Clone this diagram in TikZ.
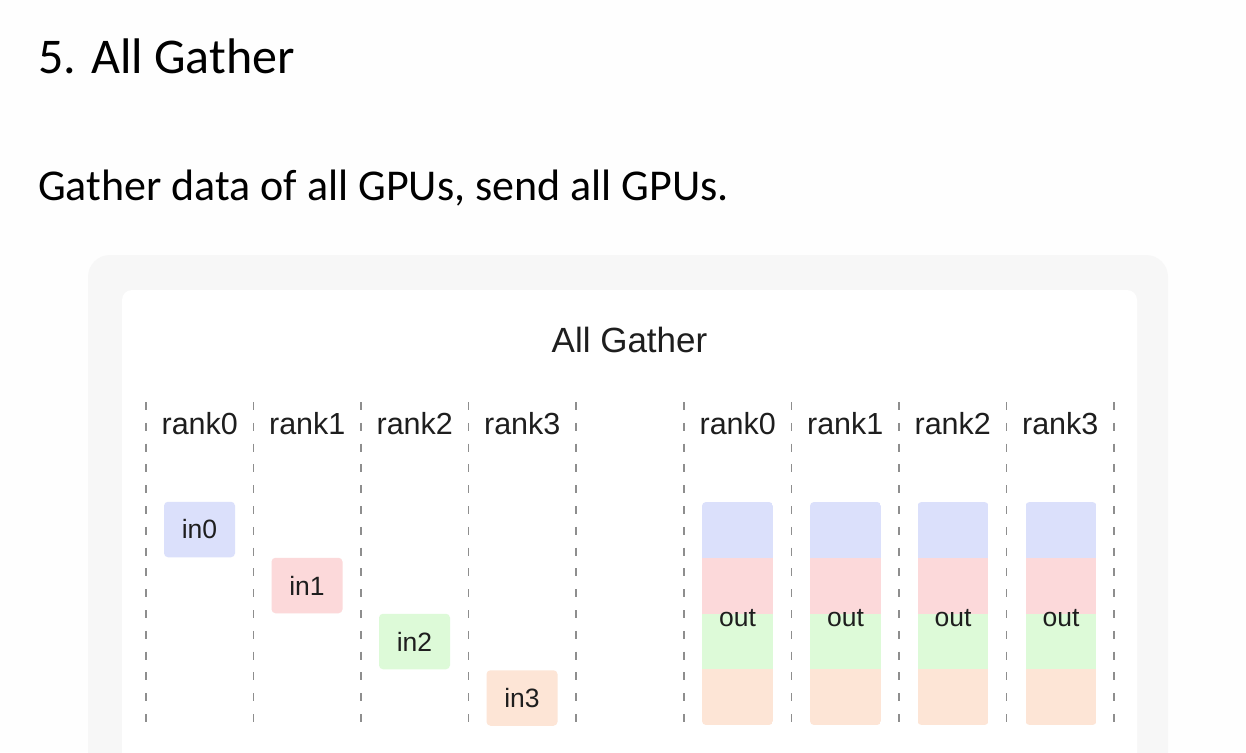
\documentclass[tikz,border=0pt]{standalone}
\usepackage{fontspec}
\setmainfont{Liberation Sans}
\newfontfamily\slidefont{Carlito}
\usepackage{tikz}
\usetikzlibrary{positioning,calc}
\definecolor{agblue}{HTML}{DBE0FB}
\definecolor{agred}{HTML}{FCD9DA}
\definecolor{aggreen}{HTML}{DDFAD8}
\definecolor{agorange}{HTML}{FDE5D6}
\definecolor{agink}{HTML}{1E1E1E}
\definecolor{agdash}{HTML}{8E8E8E}
\definecolor{agshade}{HTML}{F7F7F7}
\definecolor{agpage}{HTML}{FEFEFE}

\begin{document}
\begin{tikzpicture}[
  x=1pt, y=-1pt,
  font=\fontsize{26.5}{32}\selectfont,
  slidetitle/.style={font=\slidefont\fontsize{50}{60}\selectfont, anchor=base west, inner sep=0pt},
  slidetext/.style={font=\slidefont\fontsize{44}{52}\selectfont, anchor=base west, inner sep=0pt},
  panelhead/.style={font=\fontsize{35}{42}\selectfont, text=agink, anchor=base, inner sep=0pt},
  ranklabel/.style={font=\fontsize{30.5}{36}\selectfont, text=agink, anchor=base, inner sep=0pt},
  rankline/.style={agdash, line width=1.5pt, dash pattern=on 8pt off 12.8pt},
  inbox/.style={rounded corners=4pt, minimum width=71pt, minimum height=55.5pt,
    inner sep=0pt, text=agink},
  outcol/.style={rounded corners=4pt, minimum width=71pt, minimum height=223pt,
    inner sep=0pt, text=agink,
    path picture={
      \foreach \c/\a/\b in {agblue/0/0.25, agred/0.25/0.5, aggreen/0.5/0.75, agorange/0.75/1}
        \fill[\c, sharp corners] ($(path picture bounding box.north west)!\a!(path picture bounding box.south west)$)
          rectangle ($(path picture bounding box.north east)!\b!(path picture bounding box.south east)$);
    }},
  outtext/.style={text=agink, inner sep=0pt, anchor=base},
]

% ---------------- page and panels
\useasboundingbox (0,0) rectangle (1246,752);
\fill[agpage] (0,0) rectangle (1246,752);
\fill[agshade, rounded corners=22pt] (88,255) rectangle (1168,800);
\fill[white, rounded corners=10pt] (122,290) rectangle (1137,800);

% ---------------- slide text
\node[slidetitle] (title) at (38,73) {5. All Gather};
\node[slidetext] (subtitle) at (38,200) {Gather data of all GPUs, send all GPUs.};
\node[panelhead] (head) at (629.5,352) {All Gather};

% ---------------- rank columns
\foreach \x in {146,253.5,361,468.5,576,684,791.5,899,1006.5,1114}
  \draw[rankline] (\x,402) -- (\x,722);
\foreach \x [count=\i from 0] in {199.75,307.25,414.75,522.25}
  \node[ranklabel] (lin\i) at (\x,434) {rank\i};
\foreach \x [count=\i from 0] in {737.75,845.25,952.75,1060.25}
  \node[ranklabel] (lout\i) at (\x,434) {rank\i};

% ---------------- inputs, one per rank
\node[inbox, fill=agblue]   (in0) at (199.5,529.5) {in0};
\node[inbox, fill=agred]    (in1) at (307,585.5)   {in1};
\node[inbox, fill=aggreen]  (in2) at (414.5,641.5) {in2};
\node[inbox, fill=agorange] (in3) at (522,698)     {in3};

% ---------------- gathered outputs
\foreach \x [count=\i from 0] in {737.5,845.5,953,1061} {
  \node[outcol] (out\i) at (\x,613.5) {};
  \node[outtext] (outlabel\i) at ($(out\i.center)+(0,13)$) {out};
}

\end{tikzpicture}
\end{document}
